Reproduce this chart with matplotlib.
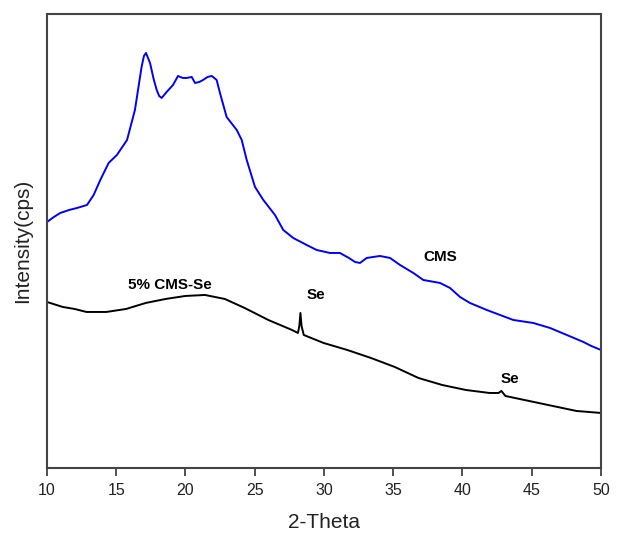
import matplotlib
matplotlib.use("Agg")
import matplotlib.pyplot as plt

plt.rcParams['font.family'] = ['Liberation Sans', 'DejaVu Sans']

# CMS (blue) curve: 2-theta and intensity (arbitrary units)
cms_x = [10.0, 10.5, 10.96, 11.6, 12.17, 12.89, 13.37, 13.85, 14.45, 15.05, 15.78, 16.35, 16.83, 17.0, 17.15,
         17.44, 17.7, 17.92, 18.1, 18.28, 18.64, 19.1, 19.46, 19.8, 20.08, 20.45, 20.69, 21.0, 21.27,
         21.6, 21.9, 22.25, 22.49, 22.97, 23.7, 24.06, 24.42, 25.02, 25.62, 26.46, 27.06, 27.78,
         28.75, 29.47, 30.43, 31.15, 31.8, 32.24, 32.6, 33.08, 34.04, 34.77, 35.49, 36.45, 37.17,
         38.38, 39.1, 39.82, 40.54, 41.75, 42.71, 43.67, 45.11, 46.32, 47.53, 48.73, 49.3, 50.0]
cms_y = [244, 249, 253, 256, 258, 261, 271, 286, 303, 311, 326, 356, 399, 410, 413,
         403, 387, 376, 370, 368, 374, 381, 390, 388, 388, 389, 383, 384, 386,
         389, 390, 386, 373, 349, 336, 326, 306, 279, 266, 251, 236, 228,
         221, 216, 213, 213, 208, 204, 203, 208, 210, 208, 201, 193, 186,
         183, 178, 169, 163, 156, 151, 146, 143, 138, 131, 124, 120, 116]

# 5% CMS-Se (black) curve
se_x = [10.0, 11.14, 12.0, 12.85, 14.28, 15.71, 17.13, 18.56, 19.99, 21.41, 22.84, 24.27, 25.98,
        27.69, 28.12, 28.22, 28.3, 28.38, 28.54, 29.97, 31.68, 33.39, 35.11, 36.82, 38.53, 40.24,
        41.95, 42.6, 42.81, 43.1, 44.81, 46.52, 48.23, 50.0]
se_y = [164, 159, 157, 154, 154, 157, 163, 167, 170, 171, 167, 158, 146,
        136, 133, 140, 153, 140, 131, 123, 116, 108, 99, 88, 81, 76,
        73, 73, 75, 70, 65, 60, 55, 53]

xticks = [10, 15, 20, 25, 30, 35, 40, 45, 50]

fig = plt.figure(figsize=(6.19, 5.33), dpi=100)
ax = fig.add_axes([0.0759, 0.1220, 0.895, 0.8518])

ax.plot(cms_x, cms_y, color='#0000ff', lw=1.4)
ax.plot(se_x, se_y, color='black', lw=1.4)

ax.set_xlim(10, 50)
ax.set_ylim(-2, 452)
ax.set_xticks(xticks)
ax.set_yticks([])
ax.tick_params(axis='x', direction='out', length=6, width=1.2, pad=5, labelsize=11.5,
               colors='#333333', labelcolor='#222222')
for s in ax.spines.values():
    s.set_linewidth(1.5)
    s.set_color('#444444')

ax.set_xlabel('2-Theta', fontsize=15, color='#222222', va='center')
ax.xaxis.set_label_coords(0.5, -0.119)
ax.set_ylabel('Intensity(cps)', fontsize=15, color='#222222', va='center')
ax.yaxis.set_label_coords(-0.0433, 0.5)

ax.text(38.4, 209, 'CMS', fontsize=11, fontweight='bold', ha='center', va='center')
ax.text(18.9, 181, '5% CMS-Se', fontsize=11, fontweight='bold', ha='center', va='center')
ax.text(29.4, 171, 'Se', fontsize=11, fontweight='bold', ha='center', va='center')
ax.text(43.4, 87, 'Se', fontsize=11, fontweight='bold', ha='center', va='center')

fig.savefig('out.png', dpi=100)
